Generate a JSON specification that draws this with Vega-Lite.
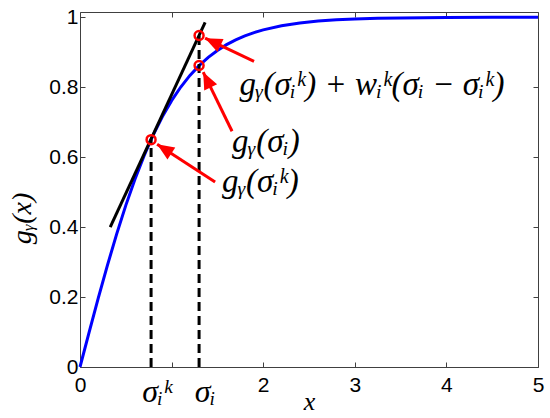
{
  "$schema": "https://vega.github.io/schema/vega-lite/v6.json",
  "width": 458,
  "height": 355,
  "autosize": "none",
  "padding": {"left": 80, "top": 12, "right": 12, "bottom": 51},
  "background": "white",
  "config": {
    "view": {"stroke": null},
    "axis": {"domainColor": "#404040", "tickColor": "#404040", "grid": false, "labelColor": "#000000", "titleColor": "#000000", "labelFont": "Liberation Sans", "labelFontSize": 21, "domainWidth": 1, "tickWidth": 1}
  },
  "datasets": {
    "curve": [
      {"x": 0, "y": 0}, {"x": 0.1, "y": 0.0997}, {"x": 0.2, "y": 0.1974}, {"x": 0.3, "y": 0.2913},
      {"x": 0.4, "y": 0.3799}, {"x": 0.5, "y": 0.4621}, {"x": 0.6, "y": 0.537}, {"x": 0.7, "y": 0.6044},
      {"x": 0.8, "y": 0.664}, {"x": 0.9, "y": 0.7163}, {"x": 1.0, "y": 0.7616}, {"x": 1.1, "y": 0.8005},
      {"x": 1.2, "y": 0.8337}, {"x": 1.3, "y": 0.8617}, {"x": 1.4, "y": 0.8854}, {"x": 1.5, "y": 0.9051},
      {"x": 1.6, "y": 0.9217}, {"x": 1.7, "y": 0.9354}, {"x": 1.8, "y": 0.9468}, {"x": 1.9, "y": 0.9562},
      {"x": 2.0, "y": 0.964}, {"x": 2.2, "y": 0.9757}, {"x": 2.4, "y": 0.9837}, {"x": 2.6, "y": 0.989},
      {"x": 2.8, "y": 0.9926}, {"x": 3.0, "y": 0.9951}, {"x": 3.25, "y": 0.997}, {"x": 3.5, "y": 0.9982},
      {"x": 3.75, "y": 0.9989}, {"x": 4.0, "y": 0.9993}, {"x": 4.5, "y": 0.9998}, {"x": 5.0, "y": 0.9999}
    ],
    "arrows": [
      {"x": 1.9, "y": 0.874, "x2": 1.366, "y2": 0.94},
      {"x": 1.66, "y": 0.674, "x2": 1.345, "y2": 0.843},
      {"x": 1.475, "y": 0.529, "x2": 0.842, "y2": 0.637}
    ]
  },
  "resolve": {"axis": {"x": "independent", "y": "independent"}},
  "layer": [
    {
      "data": {"name": "curve"},
      "mark": {"type": "line", "color": "#0000ff", "strokeWidth": 3},
      "encoding": {
        "x": {
          "field": "x", "type": "quantitative",
          "scale": {"domain": [0, 5], "nice": false, "zero": false},
          "axis": {
            "orient": "bottom",
            "values": [0, 1, 2, 3, 4, 5],
            "labelExpr": "datum.value == 1 ? '' : datum.label",
            "format": "d",
            "tickSize": -5,
            "labelPadding": 12,
            "labelOverlap": false,
            "labelFlush": false,
            "title": "x",
            "titleFont": "Liberation Serif",
            "titleFontStyle": "italic",
            "titleFontWeight": "normal",
            "titleFontSize": 26,
            "titleBaseline": "middle",
            "titleY": 34
          }
        },
        "y": {
          "field": "y", "type": "quantitative",
          "scale": {"domain": [0, 1.015], "nice": false, "zero": false},
          "axis": {
            "orient": "left",
            "values": [0, 0.2, 0.4, 0.6, 0.8, 1],
            "format": ".1~f",
            "tickSize": -5,
            "labelPadding": 7,
            "labelOverlap": false,
            "title": "gᵧ(x)",
            "titleFont": "Liberation Serif",
            "titleFontStyle": "italic",
            "titleFontWeight": "normal",
            "titleFontSize": 28,
            "titleAngle": -90,
            "titleBaseline": "middle",
            "titleX": -58,
            "titleY": 206
          }
        }
      }
    },
    {
      "data": {"name": "curve"},
      "mark": {"type": "line", "opacity": 0},
      "encoding": {
        "x": {"field": "x", "type": "quantitative", "axis": {"orient": "top", "values": [0, 1, 2, 3, 4, 5], "labels": false, "title": null, "tickSize": -5}},
        "y": {"field": "y", "type": "quantitative", "axis": {"orient": "right", "values": [0, 0.2, 0.4, 0.6, 0.8, 1], "labels": false, "title": null, "tickSize": -5}}
      }
    },
    {
      "data": {"values": [{"x": 0.776, "y": 0, "y2": 0.65}, {"x": 1.3, "y": 0, "y2": 0.948}]},
      "mark": {"type": "rule", "color": "#000000", "strokeWidth": 3, "strokeDash": [9, 5]},
      "encoding": {
        "x": {"field": "x", "type": "quantitative", "axis": null},
        "y": {"field": "y", "type": "quantitative", "axis": null},
        "y2": {"field": "y2"}
      }
    },
    {
      "data": {"values": [{"x": 0.33, "y": 0.4, "x2": 1.366, "y2": 0.985}]},
      "mark": {"type": "rule", "color": "#000000", "strokeWidth": 3},
      "encoding": {
        "x": {"field": "x", "type": "quantitative", "axis": null},
        "y": {"field": "y", "type": "quantitative", "axis": null},
        "x2": {"field": "x2"},
        "y2": {"field": "y2"}
      }
    },
    {
      "data": {"name": "arrows"},
      "mark": {"type": "rule", "color": "#ff0000", "strokeWidth": 3},
      "encoding": {
        "x": {"field": "x", "type": "quantitative", "axis": null},
        "y": {"field": "y", "type": "quantitative", "axis": null},
        "x2": {"field": "x2"},
        "y2": {"field": "y2"}
      }
    },
    {
      "data": {"name": "arrows"},
      "transform": [{"calculate": "atan2((datum.x2 - datum.x) * 91.6, (datum.y2 - datum.y) * 349.8) * 180 / PI", "as": "angle"}],
      "mark": {"type": "point", "shape": "M0,0L-0.42,1L0.42,1Z", "filled": true, "color": "#ff0000", "size": 1156, "opacity": 1, "strokeWidth": 0},
      "encoding": {
        "x": {"field": "x2", "type": "quantitative", "axis": null},
        "y": {"field": "y2", "type": "quantitative", "axis": null},
        "angle": {"field": "angle", "type": "quantitative", "scale": null}
      }
    },
    {
      "data": {"values": [{"x": 0.776, "y": 0.65}, {"x": 1.3, "y": 0.862}, {"x": 1.3, "y": 0.948}]},
      "mark": {"type": "point", "shape": "circle", "filled": false, "color": "#ff0000", "strokeWidth": 2.5, "size": 80, "opacity": 1},
      "encoding": {
        "x": {"field": "x", "type": "quantitative", "axis": null},
        "y": {"field": "y", "type": "quantitative", "axis": null}
      }
    },
    {
      "data": {"values": [
        {"x": 0.776, "y": -0.072, "label": "σᵢᵏ"},
        {"x": 1.3, "y": -0.072, "label": "σᵢ"}
      ]},
      "mark": {"type": "text", "align": "center", "baseline": "middle", "dx": 6, "font": "Liberation Serif", "fontStyle": "italic", "fontSize": 32, "color": "#000000"},
      "encoding": {
        "x": {"field": "x", "type": "quantitative", "axis": null},
        "y": {"field": "y", "type": "quantitative", "axis": null},
        "text": {"field": "label"}
      }
    },
    {
      "data": {"values": [
        {"x": 1.74, "y": 0.806, "label": "gᵧ(σᵢᵏ) + wᵢᵏ(σᵢ − σᵢᵏ)"},
        {"x": 1.66, "y": 0.643, "label": "gᵧ(σᵢ)"},
        {"x": 1.55, "y": 0.529, "label": "gᵧ(σᵢᵏ)"}
      ]},
      "mark": {"type": "text", "align": "left", "baseline": "middle", "font": "Liberation Serif", "fontStyle": "italic", "fontSize": 33, "color": "#000000"},
      "encoding": {
        "x": {"field": "x", "type": "quantitative", "axis": null},
        "y": {"field": "y", "type": "quantitative", "axis": null},
        "text": {"field": "label"}
      }
    }
  ]
}
